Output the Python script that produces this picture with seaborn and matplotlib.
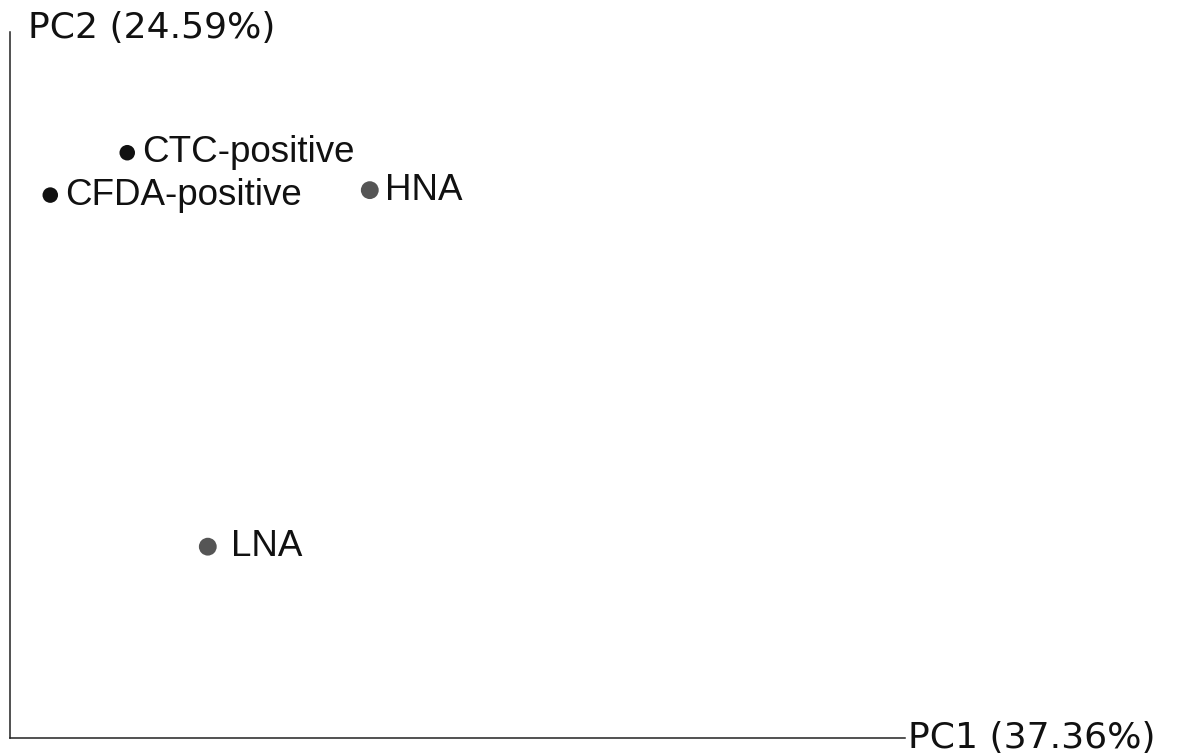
import matplotlib
matplotlib.use("Agg")
import matplotlib.pyplot as plt
import seaborn as sns
import pandas as pd

# PCA scores (axis range 0..100 on both axes)
samples = ["CTC-positive", "CFDA-positive", "HNA", "LNA"]
pc1 = [13.1, 4.5, 40.2, 22.1]
pc2 = [82.9, 76.9, 77.6, 27.1]
group = ["activity", "activity", "nucleic", "nucleic"]
label_offset = [11, 11, 11, 17]

df = pd.DataFrame({"sample": samples, "PC1": pc1, "PC2": pc2, "group": group})

sns.set_style("white")
plt.rcParams["font.family"] = ["Liberation Sans", "DejaVu Sans"]

fig = plt.figure(figsize=(11.98, 7.53), dpi=100)
ax = fig.add_axes([10 / 1198, 15 / 753, 895 / 1198, 706 / 753])

sns.scatterplot(data=df, x="PC1", y="PC2", hue="group", size="group",
                palette={"activity": "#111111", "nucleic": "#555555"},
                sizes={"activity": 125, "nucleic": 165},
                edgecolor="none", legend=False, ax=ax, zorder=3)

for s, x, y, off in zip(samples, pc1, pc2, label_offset):
    ax.annotate(s, (x, y), xytext=(off, 0), textcoords="offset points",
                ha="left", va="center", fontsize=26.5, color="#111111")

ax.set_xlim(0, 100)
ax.set_ylim(0, 100)
ax.set_xticks([])
ax.set_yticks([])
ax.set_xlabel("")
ax.set_ylabel("")
sns.despine(ax=ax)
for sp in ("left", "bottom"):
    ax.spines[sp].set_linewidth(1.1)
    ax.spines[sp].set_color("#222222")

fig.text(28 / 1198, 1 - 38 / 753, "PC2 (24.59%)", family="DejaVu Sans",
         fontsize=26, ha="left", va="baseline", color="#111111")
fig.text(908 / 1198, 15 / 753, "PC1 (37.36%)", family="DejaVu Sans",
         fontsize=26, ha="left", va="center", color="#111111")

fig.savefig("out.png", dpi=100, facecolor="white")
